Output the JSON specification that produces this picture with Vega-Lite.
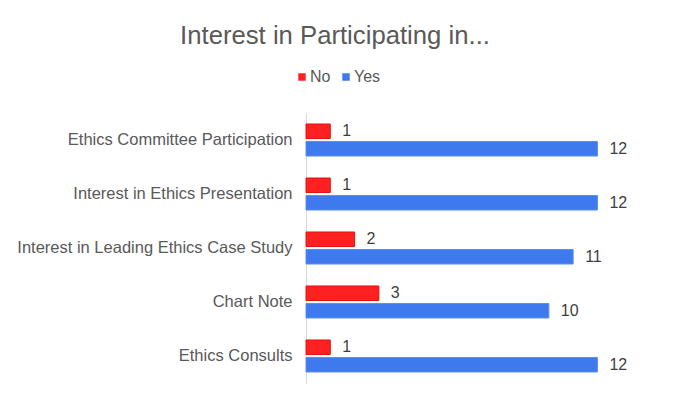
{
  "$schema": "https://vega.github.io/schema/vega-lite/v6.json",
  "autosize": "none",
  "width": 340,
  "height": 270,
  "padding": {"left": 306, "top": 113, "right": 28, "bottom": 30},
  "background": "white",
  "title": {
    "text": "Interest in Participating in...",
    "fontSize": 25.7,
    "font": "Liberation Sans",
    "fontWeight": "normal",
    "color": "#595959",
    "anchor": "middle",
    "dx": -141,
    "offset": 19
  },
  "data": {
    "values": [
      {"category": "Ethics Committee Participation", "answer": "No", "count": 1},
      {"category": "Ethics Committee Participation", "answer": "Yes", "count": 12},
      {"category": "Interest in Ethics Presentation", "answer": "No", "count": 1},
      {"category": "Interest in Ethics Presentation", "answer": "Yes", "count": 12},
      {"category": "Interest in Leading Ethics Case Study", "answer": "No", "count": 2},
      {"category": "Interest in Leading Ethics Case Study", "answer": "Yes", "count": 11},
      {"category": "Chart Note", "answer": "No", "count": 3},
      {"category": "Chart Note", "answer": "Yes", "count": 10},
      {"category": "Ethics Consults", "answer": "No", "count": 1},
      {"category": "Ethics Consults", "answer": "Yes", "count": 12}
    ]
  },
  "encoding": {
    "y": {
      "field": "category",
      "type": "nominal",
      "sort": ["Ethics Committee Participation", "Interest in Ethics Presentation", "Interest in Leading Ethics Case Study", "Chart Note", "Ethics Consults"],
      "scale": {"paddingInner": 0.407, "paddingOuter": 0.204},
      "axis": {
        "title": null,
        "ticks": false,
        "domainColor": "#D9D9D9",
        "domainWidth": 1,
        "labelFont": "Liberation Sans",
        "labelFontSize": 16.5,
        "labelColor": "#595959",
        "labelPadding": 14,
        "labelLimit": 400,
        "grid": false
      }
    },
    "yOffset": {
      "field": "answer",
      "type": "nominal",
      "sort": ["No", "Yes"],
      "scale": {"paddingInner": 0.171, "paddingOuter": 0}
    },
    "x": {
      "field": "count",
      "type": "quantitative",
      "scale": {"domain": [0, 14], "nice": false},
      "axis": null
    }
  },
  "layer": [
    {
      "mark": {"type": "bar", "strokeWidth": 1},
      "encoding": {
        "color": {
          "field": "answer",
          "type": "nominal",
          "scale": {"domain": ["No", "Yes"], "range": ["#FF2121", "#3E7AEE"]},
          "legend": {
            "title": null,
            "orient": "none",
            "direction": "horizontal",
            "legendX": -12,
            "legendY": -44,
            "padding": 0,
            "symbolType": "square",
            "symbolSize": 56,
            "symbolStrokeWidth": 0,
            "labelFont": "Liberation Sans",
            "labelFontSize": 16,
            "labelColor": "#595959",
            "labelOffset": 0,
            "columnPadding": 7
          }
        },
        "stroke": {
          "field": "answer",
          "type": "nominal",
          "scale": {"domain": ["No", "Yes"], "range": ["#E81010", "#5B8EF0"]},
          "legend": null
        }
      }
    },
    {
      "mark": {
        "type": "text",
        "align": "left",
        "baseline": "middle",
        "dx": 12,
        "font": "Liberation Sans",
        "fontSize": 16,
        "color": "#404040"
      },
      "encoding": {
        "text": {"field": "count", "type": "quantitative"}
      }
    }
  ],
  "config": {
    "view": {"stroke": null}
  }
}
